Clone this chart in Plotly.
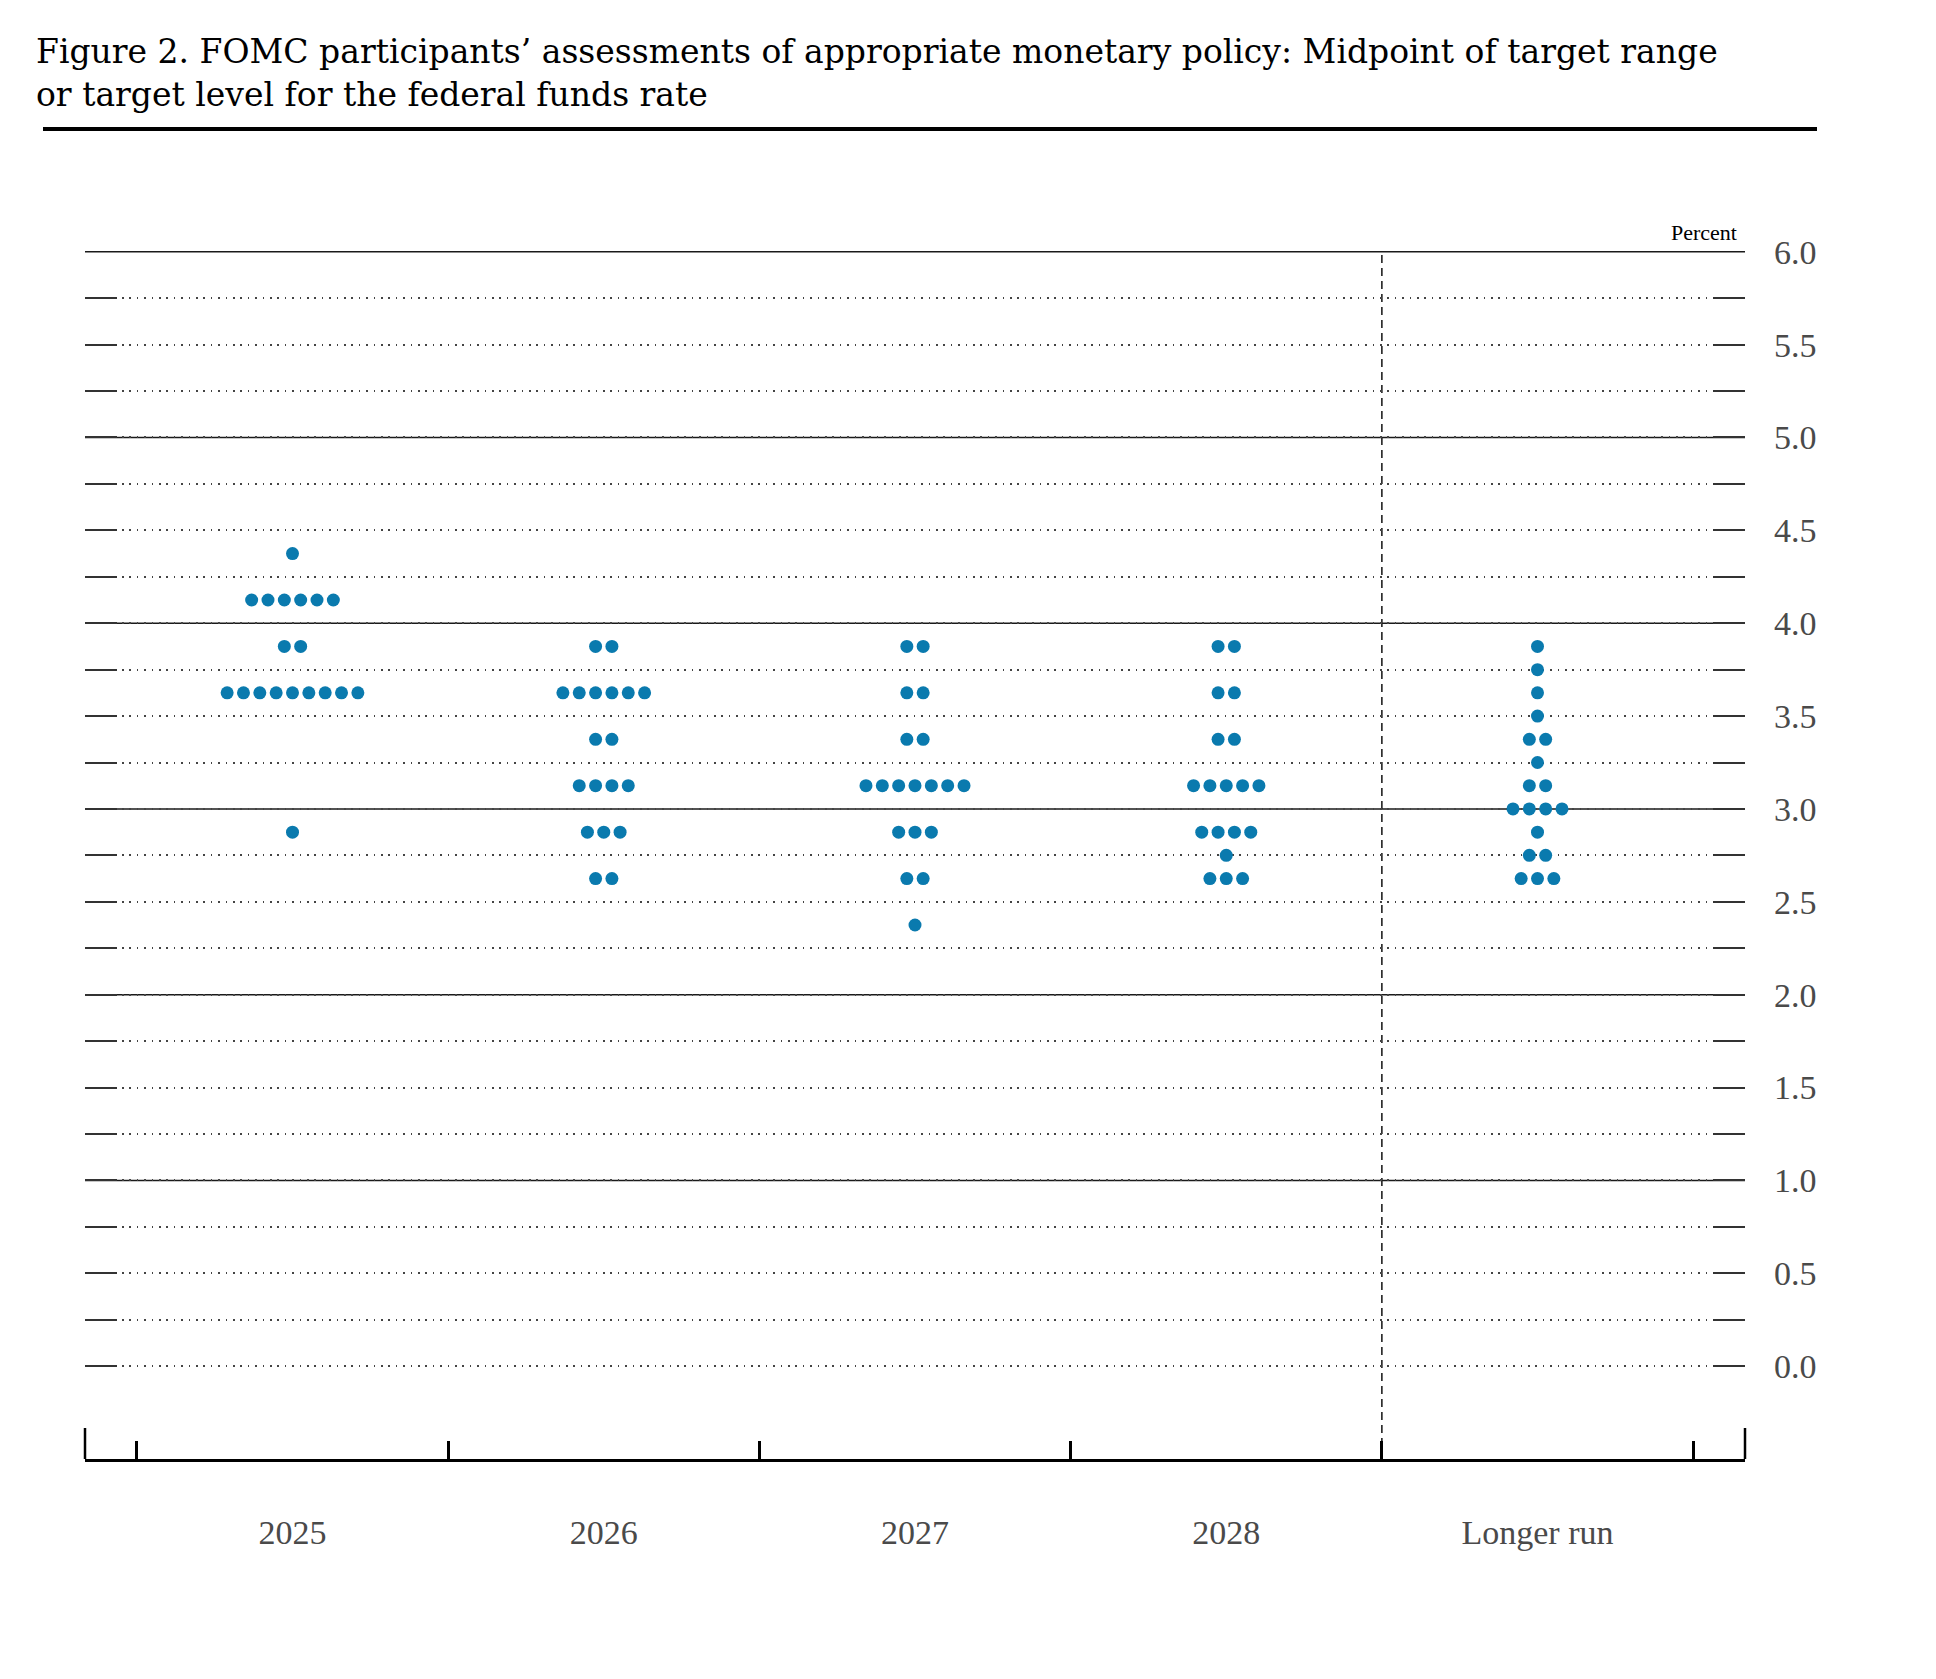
import plotly.graph_objects as go

# ---------------- data ----------------
categories = ["2025", "2026", "2027", "2028", "Longer run"]

midpoints_2025 = [4.375, 4.125, 3.875, 3.625, 2.875]
counts_2025 = [1, 6, 2, 9, 1]

midpoints_2026 = [3.875, 3.625, 3.375, 3.125, 2.875, 2.625]
counts_2026 = [2, 6, 2, 4, 3, 2]

midpoints_2027 = [3.875, 3.625, 3.375, 3.125, 2.875, 2.625, 2.375]
counts_2027 = [2, 2, 2, 7, 3, 2, 1]

midpoints_2028 = [3.875, 3.625, 3.375, 3.125, 2.875, 2.75, 2.625]
counts_2028 = [2, 2, 2, 5, 4, 1, 3]

midpoints_lr = [3.875, 3.75, 3.625, 3.5, 3.375, 3.25, 3.125, 3.0, 2.875, 2.75, 2.625]
counts_lr = [1, 1, 1, 1, 2, 1, 2, 4, 1, 2, 3]

y_tick_values = [i * 0.25 for i in range(25)]
y_tick_labels = [f"{v:.1f}" if abs(v * 2 - round(v * 2)) < 1e-9 else "" for v in y_tick_values]
solid_levels = [1, 2, 3, 4, 5, 6]
boundaries = [-0.5, 0.5, 1.5, 2.5, 3.5, 4.5]

series = [
    (midpoints_2025, counts_2025),
    (midpoints_2026, counts_2026),
    (midpoints_2027, counts_2027),
    (midpoints_2028, counts_2028),
    (midpoints_lr, counts_lr),
]

# ---------------- styling ----------------
W, H = 1936, 1679
OFF = 8  # page body margin
ML, MR, MT, MB = 85 - OFF, 191 + OFF, 251 - OFF, 220 + OFF
PW, PH = W - ML - MR, H - MT - MB
DOT = "#0a7aae"
SERIF = "Liberation Serif, Times New Roman, serif"
TSERIF = "DejaVu Serif, serif"
spacing = 0.0525  # horizontal spacing between dots (x-units)

xs, ys = [], []
for ci, (mids, cnts) in enumerate(series):
    for m, n in zip(mids, cnts):
        for i in range(n):
            xs.append(ci + (i - (n - 1) / 2) * spacing)
            ys.append(m)

fig = go.Figure()
fig.add_trace(go.Scatter(
    x=xs, y=ys, mode="markers",
    marker=dict(size=13, color=DOT, line=dict(width=0)),
    hoverinfo="skip", showlegend=False,
))


def px_x(p):
    return (p - OFF - ML) / PW


def px_y(p):
    return (H - MB - (p - OFF)) / PH


shapes = []
for lv in solid_levels:
    shapes.append(dict(type="line", xref="paper", yref="y", x0=0, x1=1, y0=lv, y1=lv,
                       line=dict(color="#1a1a1a", width=1.5), layer="below"))
# vertical dashed separator
shapes.append(dict(type="line", xref="x", yref="paper", x0=3.5, x1=3.5, y0=0, y1=1,
                   line=dict(color="#222", width=1.6, dash="8px,5px"), layer="below"))
# end caps on the bottom axis
cap = 31 / PH
for xp in (0, 1):
    shapes.append(dict(type="line", xref="paper", yref="paper", x0=xp, x1=xp, y0=0, y1=cap,
                       line=dict(color="black", width=2.5)))
# title rule
shapes.append(dict(type="line", xref="paper", yref="paper",
                   x0=px_x(43), x1=px_x(1817), y0=px_y(129), y1=px_y(129),
                   line=dict(color="black", width=4)))

annotations = [
    dict(text="Figure 2. FOMC participants’ assessments of appropriate monetary policy: Midpoint of target range",
         xref="paper", yref="paper", x=px_x(34), y=px_y(51), xanchor="left", yanchor="middle",
         showarrow=False, font=dict(family=TSERIF, size=33, color="black")),
    dict(text="or target level for the federal funds rate",
         xref="paper", yref="paper", x=px_x(34), y=px_y(95), xanchor="left", yanchor="middle",
         showarrow=False, font=dict(family=TSERIF, size=33, color="black")),
    dict(text="Percent", xref="paper", yref="paper", x=px_x(1739), y=1, yshift=4,
         xanchor="right", yanchor="bottom", showarrow=False,
         font=dict(family=SERIF, size=22, color="black")),
]

fig.update_layout(
    width=W, height=H,
    margin=dict(l=ML, r=MR, t=MT, b=MB),
    paper_bgcolor="white", plot_bgcolor="white",
    shapes=shapes, annotations=annotations,
    showlegend=False,
    xaxis=dict(
        range=[-2 / 3, 4 + 2 / 3],
        tickmode="array", tickvals=list(range(len(categories))), ticktext=categories,
        ticks="", showgrid=False, zeroline=False,
        showline=True, linecolor="black", linewidth=3,
        tickfont=dict(family=SERIF, size=34, color="#4a4a4a"),
        ticklabelstandoff=41,
        minor=dict(tickmode="array", tickvals=boundaries, ticks="inside", ticklen=18,
                   tickwidth=2.5, tickcolor="black", showgrid=False),
    ),
    yaxis=dict(
        range=[-0.5, 6.004], side="right",
        tickmode="array", tickvals=y_tick_values, ticktext=y_tick_labels,
        ticks="inside", ticklen=32, tickwidth=1.5, tickcolor="#333", mirror="ticks",
        showline=False, zeroline=False,
        showgrid=True, gridcolor="#444", gridwidth=1.5, griddash="1.6px,5.8px",
        tickfont=dict(family=SERIF, size=34, color="#4a4a4a"),
        ticklabelstandoff=28,
    ),
)

fig.write_html("out.html")
